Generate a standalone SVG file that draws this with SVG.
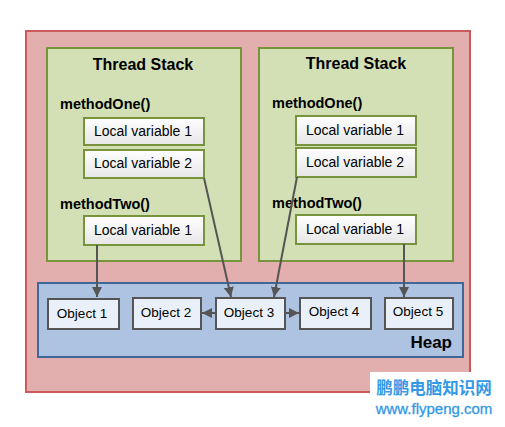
<svg xmlns="http://www.w3.org/2000/svg" width="505" height="427" viewBox="0 0 505 427">
<defs>
<linearGradient id="lv" x1="0" y1="0" x2="0" y2="1">
<stop offset="0" stop-color="#ffffff"/>
<stop offset="1" stop-color="#e6e6e6"/>
</linearGradient>
<marker id="ah" viewBox="0 0 10 10" refX="10" refY="5" markerWidth="10" markerHeight="10" markerUnits="userSpaceOnUse" orient="auto">
<path d="M0,0 L10,5 L0,10 z" fill="#555555"/>
</marker>
<style>
.t{font-family:"Liberation Sans",Arial,sans-serif;font-weight:bold;fill:#000}
.title{font-size:16px}
.m{font-size:14.5px}
.lv{fill:url(#lv);stroke:#77933c;stroke-width:2}
.lvt{font-family:"Liberation Sans",Arial,sans-serif;font-size:14px;fill:#000}
.ot{font-family:"Liberation Sans",Arial,sans-serif;font-size:13.5px;fill:#000}
.stack{fill:#d3e0b6;stroke:#77933c;stroke-width:2}
.obj{fill:#eaf0f9;stroke:#555555;stroke-width:2}
.c{stroke:#555555;stroke-width:2;fill:none;marker-end:url(#ah)}
.wm{font-family:"Noto Sans CJK SC","Liberation Sans",sans-serif;fill:#3399e6}
.wu{font-family:"Liberation Sans",Arial,sans-serif;fill:#3399e6;stroke:#3399e6;stroke-width:0.3}
</style>
</defs>
<rect x="0" y="0" width="505" height="427" fill="#ffffff"/>
<g id="outer">
<rect x="26" y="31" width="444" height="361" fill="#e3aeae" stroke="#cc5a5a" stroke-width="2"/>
</g>
<g id="stack1">
<rect class="stack" x="47" y="48" width="194" height="213"/>
<text class="t title" x="143" y="70" text-anchor="middle">Thread Stack</text>
<text class="t m" x="60" y="109">methodOne()</text>
<text class="t m" x="60" y="209">methodTwo()</text>
</g>
<g id="s1lv1"><rect class="lv" x="84" y="118" width="120" height="27"/><text class="lvt" x="143" y="136" text-anchor="middle">Local variable 1</text></g>
<g id="s1lv2"><rect class="lv" x="84" y="150" width="120" height="28"/><text class="lvt" x="143" y="168" text-anchor="middle">Local variable 2</text></g>
<g id="s1lv3"><rect class="lv" x="84" y="216" width="120" height="29"/><text class="lvt" x="143" y="235" text-anchor="middle">Local variable 1</text></g>
<g id="stack2">
<rect class="stack" x="259" y="48" width="194" height="213"/>
<text class="t title" x="356" y="69" text-anchor="middle">Thread Stack</text>
<text class="t m" x="272" y="108">methodOne()</text>
<text class="t m" x="272" y="208">methodTwo()</text>
</g>
<g id="s2lv1"><rect class="lv" x="296" y="116" width="120" height="29"/><text class="lvt" x="355" y="135" text-anchor="middle">Local variable 1</text></g>
<g id="s2lv2"><rect class="lv" x="296" y="148" width="120" height="29"/><text class="lvt" x="355" y="167" text-anchor="middle">Local variable 2</text></g>
<g id="s2lv3"><rect class="lv" x="296" y="215" width="120" height="29"/><text class="lvt" x="355" y="234" text-anchor="middle">Local variable 1</text></g>
<g id="heap">
<rect x="38" y="283" width="425" height="74" fill="#adc3e1" stroke="#3f6898" stroke-width="2"/>
<text class="t" font-size="17" x="452" y="348" text-anchor="end">Heap</text>
</g>
<g id="obj1"><rect class="obj" x="48" y="299" width="71" height="30"/><text class="ot" x="82" y="318" text-anchor="middle">Object 1</text></g>
<g id="obj2"><rect class="obj" x="133" y="298" width="68" height="31"/><text class="ot" x="166" y="317" text-anchor="middle">Object 2</text></g>
<g id="obj3"><rect class="obj" x="216" y="298" width="69" height="31"/><text class="ot" x="249" y="317" text-anchor="middle">Object 3</text></g>
<g id="obj4"><rect class="obj" x="300" y="298" width="71" height="31"/><text class="ot" x="334" y="316" text-anchor="middle">Object 4</text></g>
<g id="obj5"><rect class="obj" x="385" y="298" width="68" height="31"/><text class="ot" x="418" y="316" text-anchor="middle">Object 5</text></g>
<g id="connectors">
<line class="c" x1="97" y1="245" x2="97" y2="297"/>
<line class="c" x1="204" y1="178" x2="231" y2="297"/>
<line class="c" x1="297" y1="177" x2="274" y2="297"/>
<line class="c" x1="404" y1="244" x2="404" y2="297"/>
<line class="c" x1="216" y1="313" x2="202" y2="313"/>
<line class="c" x1="285" y1="313" x2="299" y2="313"/>
</g>
<g id="watermark">
<rect x="370" y="372" width="135" height="55" fill="#ffffff"/>
<text class="wm" x="434" y="394" font-size="16.5" font-weight="bold" text-anchor="middle">鹏鹏电脑知识网</text>
<text class="wu" x="434" y="414" font-size="15" text-anchor="middle">www.flypeng.com</text>
</g>
</svg>
